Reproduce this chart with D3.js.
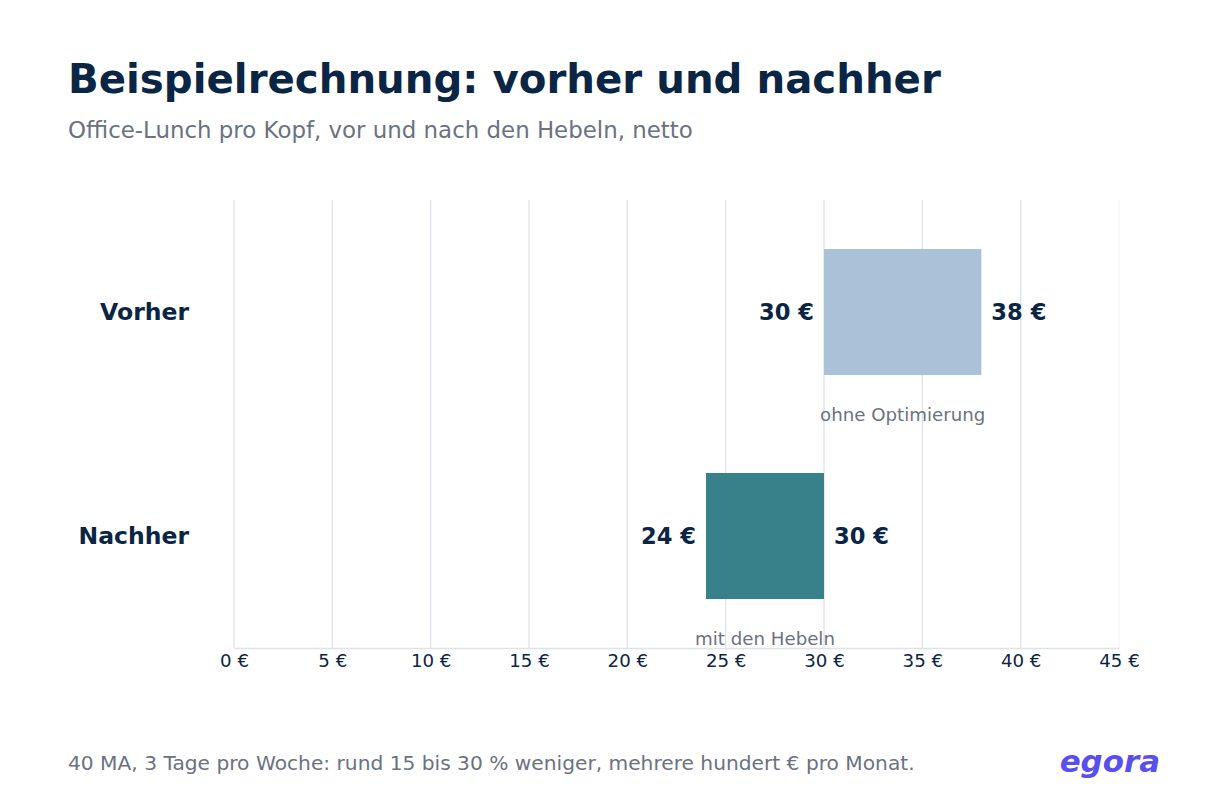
<!DOCTYPE html>
<html>
<head>
<meta charset="utf-8">
<script src="https://cdn.jsdelivr.net/npm/d3@7"></script>
<style>
	body { margin: 0; background: #fff; font-family: 'DejaVu Sans', sans-serif; }
</style>
</head>
<body>
<svg id="chart" width="1230" height="800"></svg>
<script>
// Chart data
const categories = [ 'Vorher', 'Nachher' ];
const lowValues = [ 30, 24 ];
const highValues = [ 38, 30 ];
const noteLabels = [ 'ohne Optimierung', 'mit den Hebeln' ];
const barColors = [ '#aac1d8', '#38808a' ];
const tickValues = [ 0, 5, 10, 15, 20, 25, 30, 35, 40, 45 ];

const navy = '#0b2545';
const grey = '#6b7280';
const gridColor = '#dde2ec';

const svg = d3.select( '#chart' );

svg.append( 'text' )
	.attr( 'x', 68 ).attr( 'y', 93 )
	.attr( 'font-size', 40.3 ).attr( 'font-weight', 700 )
	.attr( 'fill', navy )
	.text( 'Beispielrechnung: vorher und nachher' );

svg.append( 'text' )
	.attr( 'x', 68 ).attr( 'y', 138 )
	.attr( 'font-size', 22.9 )
	.attr( 'fill', grey )
	.text( 'Office-Lunch pro Kopf, vor und nach den Hebeln, netto' );

const x = d3.scaleLinear().domain( [ 0, 45 ] ).range( [ 234, 1119 ] );
const y = d3.scaleBand().domain( categories ).range( [ 200, 648 ] ).padding( 0 );
const barH = y.bandwidth() * 0.5625;

// grid
svg.append( 'g' )
	.selectAll( 'line' )
	.data( tickValues )
	.join( 'line' )
	.attr( 'x1', ( d ) => x( d ) ).attr( 'x2', ( d ) => x( d ) )
	.attr( 'y1', 200 ).attr( 'y2', 648 )
	.attr( 'stroke', gridColor )
	.attr( 'stroke-opacity', ( d ) => d === 45 ? 0.35 : 1 )
	.attr( 'stroke-width', 1.3 );

// x axis
const xAxis = svg.append( 'g' )
	.attr( 'transform', 'translate(0,648)' )
	.call( d3.axisBottom( x ).tickValues( tickValues ).tickSize( 0 ).tickPadding( 6 ).tickFormat( ( d ) => `${ d } €` ) );
xAxis.select( '.domain' ).attr( 'stroke', gridColor ).attr( 'stroke-width', 1.3 );
xAxis.selectAll( 'text' )
	.attr( 'font-family', 'DejaVu Sans, sans-serif' )
	.attr( 'font-size', 18.2 )
	.attr( 'fill', navy );

const rows = categories.map( ( c, i ) => ( {
	cat: c, lo: lowValues[ i ], hi: highValues[ i ], note: noteLabels[ i ], color: barColors[ i ],
} ) );

const g = svg.append( 'g' ).selectAll( 'g' ).data( rows ).join( 'g' );
const mid = ( d ) => y( d.cat ) + y.bandwidth() / 2;

g.append( 'rect' )
	.attr( 'x', ( d ) => x( d.lo ) )
	.attr( 'width', ( d ) => x( d.hi ) - x( d.lo ) )
	.attr( 'y', ( d ) => mid( d ) - barH / 2 )
	.attr( 'height', barH )
	.attr( 'fill', ( d ) => d.color );

g.append( 'text' )
	.attr( 'x', ( d ) => x( d.lo ) - 10 )
	.attr( 'y', ( d ) => mid( d ) )
	.attr( 'dy', '0.36em' )
	.attr( 'text-anchor', 'end' )
	.attr( 'font-size', 22.6 ).attr( 'font-weight', 700 )
	.attr( 'fill', navy )
	.text( ( d ) => `${ d.lo } €` );

g.append( 'text' )
	.attr( 'x', ( d ) => x( d.hi ) + 10 )
	.attr( 'y', ( d ) => mid( d ) )
	.attr( 'dy', '0.36em' )
	.attr( 'text-anchor', 'start' )
	.attr( 'font-size', 22.6 ).attr( 'font-weight', 700 )
	.attr( 'fill', navy )
	.text( ( d ) => `${ d.hi } €` );

g.append( 'text' )
	.attr( 'x', ( d ) => ( x( d.lo ) + x( d.hi ) ) / 2 )
	.attr( 'y', ( d ) => mid( d ) + barH / 2 + 39 )
	.attr( 'dy', '0.36em' )
	.attr( 'text-anchor', 'middle' )
	.attr( 'font-size', 18.2 )
	.attr( 'fill', grey )
	.text( ( d ) => d.note );

g.append( 'text' )
	.attr( 'x', 189 )
	.attr( 'y', ( d ) => mid( d ) )
	.attr( 'dy', '0.36em' )
	.attr( 'text-anchor', 'end' )
	.attr( 'font-size', 23.5 ).attr( 'font-weight', 700 )
	.attr( 'fill', navy )
	.text( ( d ) => d.cat );

svg.append( 'text' )
	.attr( 'x', 68 ).attr( 'y', 770 )
	.attr( 'font-size', 20.2 )
	.attr( 'fill', grey )
	.text( '40 MA, 3 Tage pro Woche: rund 15 bis 30 % weniger, mehrere hundert € pro Monat.' );

svg.append( 'text' )
	.attr( 'x', 1160 ).attr( 'y', 772 )
	.attr( 'text-anchor', 'end' )
	.attr( 'font-size', 30.9 ).attr( 'font-weight', 700 ).attr( 'font-style', 'italic' )
	.attr( 'fill', '#5b4ef0' )
	.text( 'egora' );
</script>
</body>
</html>
